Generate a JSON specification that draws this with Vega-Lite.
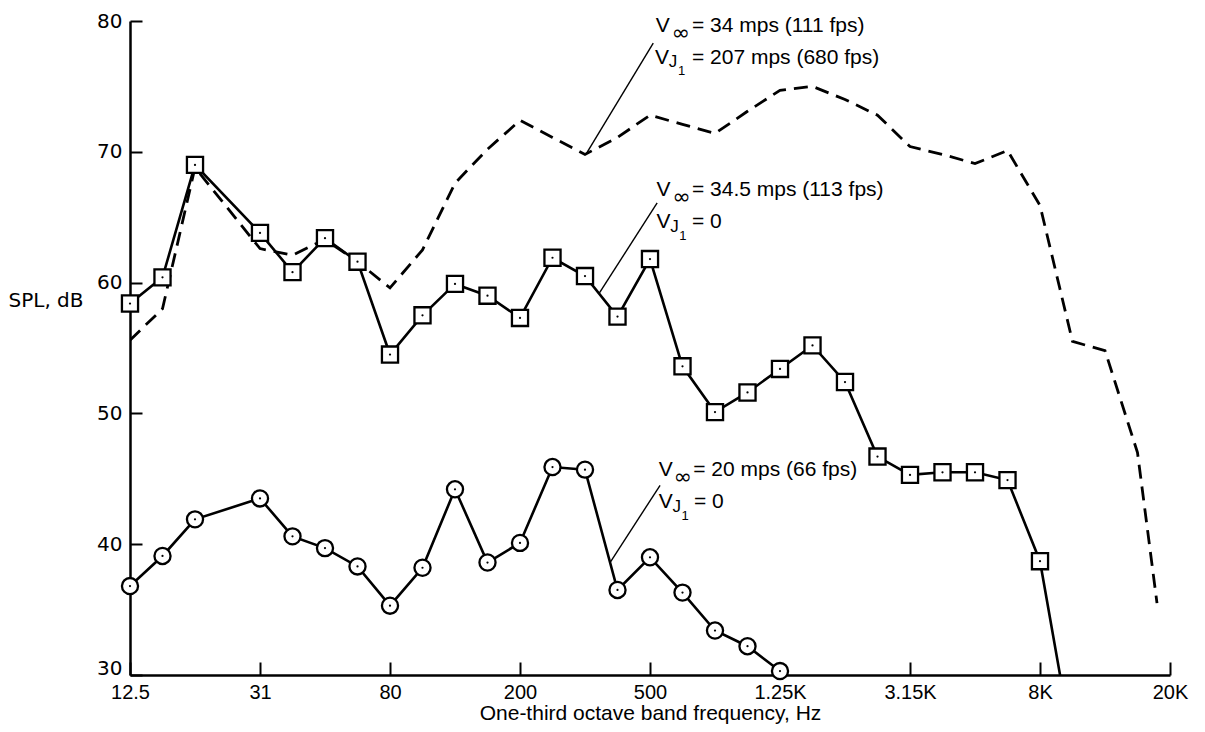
{
  "$schema": "https://vega.github.io/schema/vega-lite/v6.json",
  "width": 1040,
  "height": 654,
  "autosize": "none",
  "padding": {"left": 130, "top": 21, "right": 35, "bottom": 57},
  "background": "white",
  "config": {"view": {"stroke": null}},
  "datasets": {
    "spl": [
      {"series": "jet", "band": 0, "db": 55.6}, {"series": "jet", "band": 1, "db": 58.0}, {"series": "jet", "band": 2, "db": 68.8},
      {"series": "jet", "band": 4, "db": 62.6}, {"series": "jet", "band": 5, "db": 62.1}, {"series": "jet", "band": 6, "db": 63.3},
      {"series": "jet", "band": 7, "db": 61.6}, {"series": "jet", "band": 8, "db": 59.6}, {"series": "jet", "band": 9, "db": 62.5},
      {"series": "jet", "band": 10, "db": 67.6}, {"series": "jet", "band": 11, "db": 70.2}, {"series": "jet", "band": 12, "db": 72.4},
      {"series": "jet", "band": 13, "db": 71.1}, {"series": "jet", "band": 14, "db": 69.8}, {"series": "jet", "band": 15, "db": 71.1},
      {"series": "jet", "band": 16, "db": 72.8}, {"series": "jet", "band": 17, "db": 72.1}, {"series": "jet", "band": 18, "db": 71.4},
      {"series": "jet", "band": 19, "db": 73.1}, {"series": "jet", "band": 20, "db": 74.7}, {"series": "jet", "band": 21, "db": 75.0},
      {"series": "jet", "band": 22, "db": 74.0}, {"series": "jet", "band": 23, "db": 72.8}, {"series": "jet", "band": 24, "db": 70.4},
      {"series": "jet", "band": 25, "db": 69.8}, {"series": "jet", "band": 26, "db": 69.1}, {"series": "jet", "band": 27, "db": 70.1},
      {"series": "jet", "band": 28, "db": 65.9}, {"series": "jet", "band": 29, "db": 55.5}, {"series": "jet", "band": 30, "db": 54.8},
      {"series": "jet", "band": 31, "db": 47.0}, {"series": "jet", "band": 31.6, "db": 35.5},

      {"series": "nojet34", "band": 0, "db": 58.4}, {"series": "nojet34", "band": 1, "db": 60.4}, {"series": "nojet34", "band": 2, "db": 69.0},
      {"series": "nojet34", "band": 4, "db": 63.8}, {"series": "nojet34", "band": 5, "db": 60.8}, {"series": "nojet34", "band": 6, "db": 63.4},
      {"series": "nojet34", "band": 7, "db": 61.6}, {"series": "nojet34", "band": 8, "db": 54.5}, {"series": "nojet34", "band": 9, "db": 57.5},
      {"series": "nojet34", "band": 10, "db": 59.9}, {"series": "nojet34", "band": 11, "db": 59.0}, {"series": "nojet34", "band": 12, "db": 57.3},
      {"series": "nojet34", "band": 13, "db": 61.9}, {"series": "nojet34", "band": 14, "db": 60.5}, {"series": "nojet34", "band": 15, "db": 57.4},
      {"series": "nojet34", "band": 16, "db": 61.8}, {"series": "nojet34", "band": 17, "db": 53.6}, {"series": "nojet34", "band": 18, "db": 50.1},
      {"series": "nojet34", "band": 19, "db": 51.6}, {"series": "nojet34", "band": 20, "db": 53.4}, {"series": "nojet34", "band": 21, "db": 55.2},
      {"series": "nojet34", "band": 22, "db": 52.4}, {"series": "nojet34", "band": 23, "db": 46.7}, {"series": "nojet34", "band": 24, "db": 45.3},
      {"series": "nojet34", "band": 25, "db": 45.5}, {"series": "nojet34", "band": 26, "db": 45.5}, {"series": "nojet34", "band": 27, "db": 44.9},
      {"series": "nojet34", "band": 28, "db": 38.7}, {"series": "nojet34", "band": 29, "db": 24.6},

      {"series": "nojet20", "band": 0, "db": 36.8}, {"series": "nojet20", "band": 1, "db": 39.1}, {"series": "nojet20", "band": 2, "db": 41.9},
      {"series": "nojet20", "band": 4, "db": 43.5}, {"series": "nojet20", "band": 5, "db": 40.6}, {"series": "nojet20", "band": 6, "db": 39.7},
      {"series": "nojet20", "band": 7, "db": 38.3}, {"series": "nojet20", "band": 8, "db": 35.3}, {"series": "nojet20", "band": 9, "db": 38.2},
      {"series": "nojet20", "band": 10, "db": 44.2}, {"series": "nojet20", "band": 11, "db": 38.6}, {"series": "nojet20", "band": 12, "db": 40.1},
      {"series": "nojet20", "band": 13, "db": 45.9}, {"series": "nojet20", "band": 14, "db": 45.7}, {"series": "nojet20", "band": 15, "db": 36.5},
      {"series": "nojet20", "band": 16, "db": 39.0}, {"series": "nojet20", "band": 17, "db": 36.3}, {"series": "nojet20", "band": 18, "db": 33.4},
      {"series": "nojet20", "band": 19, "db": 32.2}, {"series": "nojet20", "band": 20, "db": 30.3}
    ],
    "notes": [
      {"band": 16.18, "db": 79.6, "text": "V", "part": "main"},
      {"band": 16.67, "db": 79.05, "text": "∞", "part": "sub"},
      {"band": 17.29, "db": 79.6, "text": "= 34 mps (111 fps)", "part": "main"},
      {"band": 16.15, "db": 77.2, "text": "V", "part": "main"},
      {"band": 16.58, "db": 76.85, "text": "J", "part": "subj"},
      {"band": 16.86, "db": 76.15, "text": "1", "part": "subsub"},
      {"band": 17.29, "db": 77.2, "text": "= 207 mps (680 fps)", "part": "main"},

      {"band": 16.2, "db": 67.1, "text": "V", "part": "main"},
      {"band": 16.69, "db": 66.55, "text": "∞", "part": "sub"},
      {"band": 17.29, "db": 67.1, "text": "= 34.5 mps (113 fps)", "part": "main"},
      {"band": 16.2, "db": 64.6, "text": "V", "part": "main"},
      {"band": 16.62, "db": 64.25, "text": "J", "part": "subj"},
      {"band": 16.9, "db": 63.55, "text": "1", "part": "subsub"},
      {"band": 17.29, "db": 64.6, "text": "= 0", "part": "main"},

      {"band": 16.27, "db": 45.7, "text": "V", "part": "main"},
      {"band": 16.73, "db": 45.15, "text": "∞", "part": "sub"},
      {"band": 17.33, "db": 45.7, "text": "= 20 mps (66 fps)", "part": "main"},
      {"band": 16.27, "db": 43.2, "text": "V", "part": "main"},
      {"band": 16.69, "db": 42.85, "text": "J", "part": "subj"},
      {"band": 16.97, "db": 42.15, "text": "1", "part": "subsub"},
      {"band": 17.35, "db": 43.2, "text": "= 0", "part": "main"}
    ],
    "leaders": [
      {"band": 16.1, "db": 78.3, "band2": 14.05, "db2": 69.9},
      {"band": 16.22, "db": 66.1, "band2": 14.43, "db2": 59.15},
      {"band": 16.31, "db": 44.5, "band2": 14.77, "db2": 38.6}
    ]
  },
  "encoding": {
    "x": {
      "field": "band", "type": "quantitative",
      "scale": {"domain": [0, 32], "nice": false, "zero": false},
      "axis": {
        "values": [0, 4, 8, 12, 16, 20, 24, 28, 32],
        "labelExpr": "['12.5','31','80','200','500','1.25K','3.15K','8K','20K'][datum.value / 4]",
        "grid": false,
        "tickSize": -13, "tickWidth": 2, "tickColor": "black",
        "domainColor": "black", "domainWidth": 2.5,
        "labelPadding": 20, "labelBaseline": "top",
        "labelFont": "Liberation Sans", "labelFontSize": 20, "labelColor": "black",
        "labelFlush": false, "labelOverlap": false,
        "title": "One-third octave band frequency, Hz",
        "titleFont": "Liberation Sans", "titleFontSize": 21, "titleFontWeight": "normal",
        "titleColor": "black", "titleBaseline": "middle", "titleY": 38
      }
    },
    "y": {
      "field": "db", "type": "quantitative",
      "scale": {"domain": [30, 80], "nice": false, "zero": false},
      "axis": {
        "values": [30, 40, 50, 60, 70, 80],
        "grid": false,
        "tickSize": -12, "tickWidth": 2, "tickColor": "black",
        "domainColor": "black", "domainWidth": 2.5,
        "labelPadding": 20, "labelAlign": "right",
        "labelOffset": {"condition": {"test": "datum.value === 30", "value": -7}, "value": 0},
        "labelFont": "DejaVu Sans", "labelFontSize": 20, "labelColor": "black",
        "labelOverlap": false, "labelFlush": false,
        "title": "SPL, dB", "titleAngle": 0, "titleAlign": "left", "titleBaseline": "middle",
        "titleX": -122, "titleY": 279,
        "titleFont": "DejaVu Sans", "titleFontSize": 20, "titleFontWeight": "normal", "titleColor": "black"
      }
    }
  },
  "layer": [
    {
      "data": {"name": "spl"},
      "transform": [{"filter": "datum.series === 'jet'"}],
      "mark": {"type": "line", "color": "black", "strokeWidth": 2.8, "strokeDash": [14, 8], "clip": true}
    },
    {
      "data": {"name": "spl"},
      "transform": [{"filter": "datum.series !== 'jet'"}],
      "mark": {"type": "line", "color": "black", "strokeWidth": 2.6, "clip": true},
      "encoding": {"detail": {"field": "series"}}
    },
    {
      "data": {"name": "spl"},
      "transform": [{"filter": "datum.series !== 'jet' && datum.db >= 30"}],
      "mark": {"type": "point", "filled": true, "fill": "white", "stroke": "black", "strokeWidth": 2.3, "size": 260, "opacity": 1},
      "encoding": {
        "shape": {"field": "series", "type": "nominal", "scale": {"domain": ["nojet34", "nojet20"], "range": ["square", "circle"]}, "legend": null}
      }
    },
    {
      "data": {"name": "spl"},
      "transform": [{"filter": "datum.series !== 'jet' && datum.db >= 30"}],
      "mark": {"type": "point", "filled": true, "color": "black", "shape": "circle", "size": 5, "opacity": 1}
    },
    {
      "data": {"name": "leaders"},
      "mark": {"type": "rule", "color": "black", "strokeWidth": 1.4},
      "encoding": {"x2": {"field": "band2"}, "y2": {"field": "db2"}}
    },
    {
      "data": {"name": "notes"},
      "transform": [{"filter": "datum.part === 'main'"}],
      "mark": {"type": "text", "align": "left", "baseline": "middle", "font": "Liberation Sans", "fontSize": 21, "color": "black"},
      "encoding": {"text": {"field": "text"}}
    },
    {
      "data": {"name": "notes"},
      "transform": [{"filter": "datum.part === 'sub'"}],
      "mark": {"type": "text", "align": "left", "baseline": "middle", "font": "DejaVu Sans", "fontSize": 22, "color": "black"},
      "encoding": {"text": {"field": "text"}}
    },
    {
      "data": {"name": "notes"},
      "transform": [{"filter": "datum.part === 'subj'"}],
      "mark": {"type": "text", "align": "left", "baseline": "middle", "font": "Liberation Sans", "fontSize": 17, "color": "black"},
      "encoding": {"text": {"field": "text"}}
    },
    {
      "data": {"name": "notes"},
      "transform": [{"filter": "datum.part === 'subsub'"}],
      "mark": {"type": "text", "align": "left", "baseline": "middle", "font": "Liberation Sans", "fontSize": 13, "color": "black"},
      "encoding": {"text": {"field": "text"}}
    }
  ]
}
